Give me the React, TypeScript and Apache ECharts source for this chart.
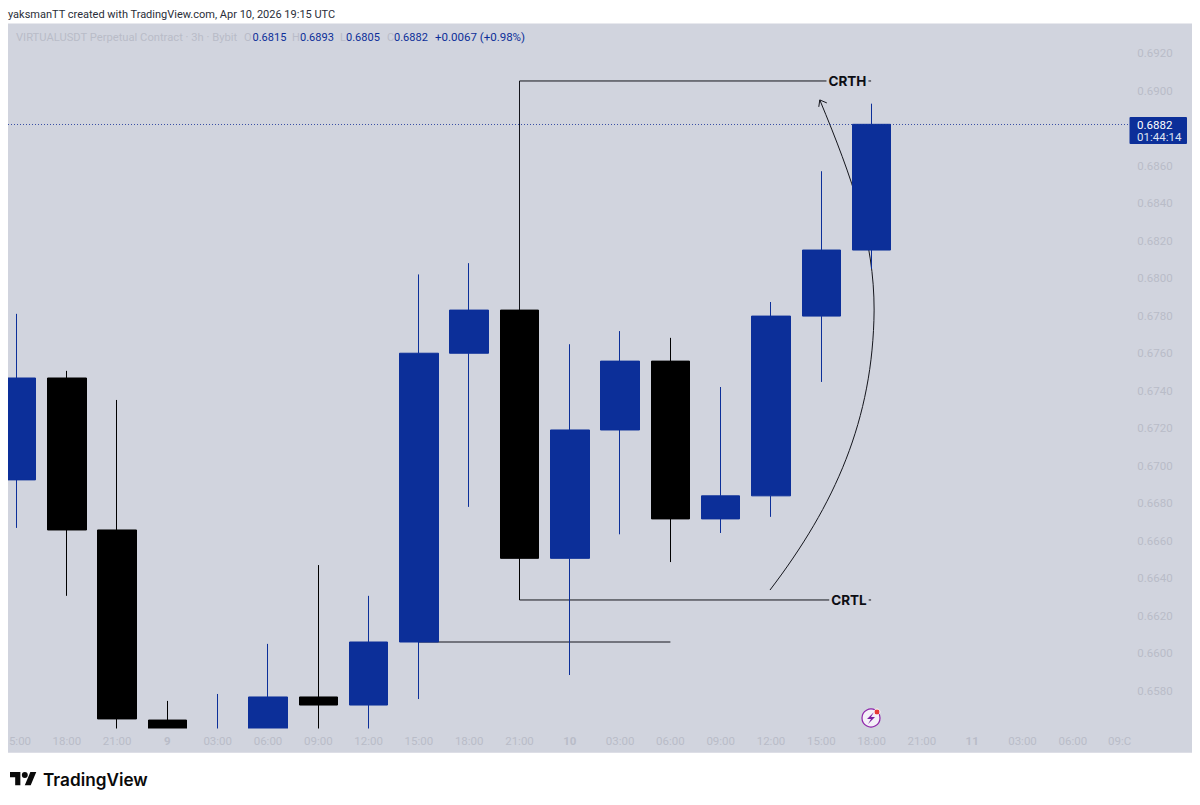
import React, { useEffect, useRef } from "react";
import * as echarts from "echarts";

const timeLabels = ["5:00","18:00","21:00","9","03:00","06:00","09:00","12:00","15:00","18:00","21:00","10","03:00","06:00","09:00","12:00","15:00","18:00","21:00","11","03:00","06:00","09:C"];
const opens  = [0.66925,0.67468,0.66658,0.65645,0.6552,0.6556,0.65768,0.65725,0.66061,0.676,0.6783,0.66507,0.67191,0.67558,0.66717,0.6684,0.67798,0.6815];
const closes = [0.67468,0.66658,0.65651,0.6557,0.6556,0.65768,0.65725,0.66061,0.676,0.6783,0.66507,0.67191,0.67558,0.66717,0.6684,0.67798,0.6815,0.6882];
const lows   = [0.66669,0.66307,0.6557,0.6555,0.655,0.6554,0.6558,0.6558,0.65757,0.66781,0.66285,0.65885,0.66635,0.66487,0.66642,0.66728,0.67447,0.6805];
const highs  = [0.6781,0.67506,0.67351,0.65747,0.65784,0.66051,0.66471,0.66307,0.6802,0.6808,0.6783,0.67648,0.67718,0.67682,0.6742,0.67873,0.6857,0.6893];
const lastPrice = 0.6882;

// Drawing tools: [position on the time axis in bars, price]
const crthLine = [[10.5,0.6783],[10.5,0.69051],[17.49,0.69051]];
const crtlLine = [[10.5,0.66507],[10.5,0.66285],[17.49,0.66285]];
const fvgLine = [[8.5,0.66061],[13.5,0.66061]];
const arrowCurve = [[15.48,0.66338],[16.77,0.66792],[17.53,0.67245],[17.55,0.6783],[17.55,0.68203],[17.13,0.68523],[16.47,0.6895]];
const arrowHead = [[16.45,0.68913],[16.47,0.6895],[16.61,0.68934]];
const drawingLabels: [string, number, number][] = [["CRTH",17.02,0.69051],["CRTL",17.05,0.66285]];

const UP = "#0c2f99";
const DOWN = "#000000";
const PANEL = "#d1d4de";
const MUTED = "#b9bcc8";
const FONT = "Roboto, 'Noto Sans', sans-serif";
const BRAND = "Inter, 'Noto Sans', sans-serif";

echarts.graphic.registerShape(
  "tvLogo",
  echarts.graphic.extendPath("M14 22H7V11H0V4h14v18z M28 22h-8l7.5-18h8L28 22z M24 8a4 4 0 1 1-8 0a4 4 0 1 1 8 0z", {}) as any
);

const headerParts: [string, number, string, number][] = [
  ["VIRTUALUSDT Perpetual Contract · 3h · Bybit", 16, MUTED, 11.2],
  ["O", 244, MUTED, 11], ["0.6815", 252.5, UP, 11],
  ["H", 292, MUTED, 11], ["0.6893", 300, UP, 11],
  ["L", 340, MUTED, 11], ["0.6805", 346, UP, 11],
  ["C", 387, MUTED, 11], ["0.6882", 394, UP, 11],
  ["+0.0067 (+0.98%)", 435, UP, 11.5],
];

export default function App() {
  const ref = useRef<HTMLDivElement>(null);
  useEffect(() => {
    document.body.style.margin = "0";
    const chart = echarts.init(ref.current!, undefined, { renderer: "svg" });
    const bars = opens.map((o, i) => [o, closes[i], lows[i], highs[i]]);
    const poly = (api: any, pts: number[][]) => ({
      type: "polyline",
      shape: { points: pts.map((p) => api.coord(p)) },
      style: { stroke: "#14151c", lineWidth: 1, fill: "none" },
    });
    chart.setOption({
      animation: false,
      backgroundColor: "#ffffff",
      grid: { left: -8.65, top: 23, width: 1156.9, height: 705.5, containLabel: false, show: false, outerBoundsMode: "none" },
      xAxis: [
        {
          type: "category",
          data: timeLabels,
          boundaryGap: true,
          z: 3,
          axisTick: { show: false },
          axisLine: { show: false },
          splitLine: { show: false },
          axisLabel: {
            interval: 0,
            margin: 6,
            hideOverlap: false,
            showMinLabel: true,
            showMaxLabel: true,
            fontFamily: FONT,
            fontSize: 11.5,
            color: MUTED,
            formatter: (v: string) => {
              if (v === "5:00") return "{l|5:00}";
              if (v === "09:C") return "{r|09:C}";
              if (v.length < 3) return "{b|" + v + "}";
              return v;
            },
            rich: {
              l: { padding: [0, 0, 0, 7], color: MUTED, fontSize: 11.5, fontFamily: FONT },
              r: { padding: [0, 7, 0, 0], color: MUTED, fontSize: 11.5, fontFamily: FONT },
              b: { fontWeight: "bold", color: MUTED, fontSize: 11.5, fontFamily: FONT },
            },
          },
        },
        { type: "value", min: 0, max: 23, show: false },
      ],
      yAxis: {
        type: "value",
        position: "right",
        min: 0.656,
        max: 0.6936,
        interval: 0.002,
        axisLine: { show: false },
        axisTick: { show: false },
        splitLine: { show: false },
        axisLabel: {
          inside: true,
          margin: 11,
          align: "left",
          fontFamily: FONT,
          fontSize: 11.5,
          color: MUTED,
          formatter: (v: number) => {
            const s = v.toFixed(4);
            return s === "0.6560" || s === "0.6880" || s === "0.6936" ? "" : s;
          },
        },
      },
      series: [
        {
          type: "custom",
          xAxisIndex: 1,
          coordinateSystem: "cartesian2d",
          data: [[0, 0.67]],
          clip: false,
          z: 0,
          renderItem: (_p: any, api: any) => {
            const c = arrowCurve.map((p) => api.coord(p));
            return {
              type: "group",
              children: [
                poly(api, crthLine),
                poly(api, crtlLine),
                poly(api, fvgLine),
                {
                  type: "path",
                  shape: {
                    pathData: `M${c[0][0]} ${c[0][1]} C${c[1][0]} ${c[1][1]} ${c[2][0]} ${c[2][1]} ${c[3][0]} ${c[3][1]} C${c[4][0]} ${c[4][1]} ${c[5][0]} ${c[5][1]} ${c[6][0]} ${c[6][1]}`,
                  },
                  style: { stroke: "#14151c", lineWidth: 1, fill: "none" },
                },
                poly(api, arrowHead),
                ...drawingLabels.map(([t, x, y]) => {
                  const q = api.coord([x, y]);
                  return {
                    type: "text",
                    x: q[0], y: q[1],
                    style: { text: t, fill: "#0d0e14", font: `bold 13.5px ${BRAND}`, align: "center", verticalAlign: "middle", backgroundColor: PANEL, padding: [2, 2] },
                  };
                }),
              ],
            };
          },
        },
        {
          type: "candlestick",
          xAxisIndex: 0,
          data: bars,
          barWidth: 39,
          clip: true,
          z: 1,
          itemStyle: { color: UP, borderColor: UP, color0: DOWN, borderColor0: DOWN, borderWidth: 1 },
          markLine: {
            silent: true,
            symbol: "none",
            z: 1,
            label: { show: false },
            lineStyle: { color: "#3a50a5", type: [1, 2], width: 1 },
            data: [[{ x: 8, yAxis: lastPrice }, { x: 1130, yAxis: lastPrice }]],
          },
        },
      ],
      graphic: [
        { type: "rect", z: -10, silent: true, shape: { x: 8, y: 23.5, width: 1184, height: 729 }, style: { fill: PANEL } },
        { type: "rect", z: 2, silent: true, shape: { x: 8, y: 728.5, width: 1184, height: 24 }, style: { fill: PANEL } },
        { type: "rect", z: 100, silent: true, shape: { x: 0, y: 23, width: 8, height: 735 }, style: { fill: "#ffffff" } },
        { type: "text", z: 101, x: 8, y: 14, style: { text: "yaksmanTT created with TradingView.com, Apr 10, 2026 19:15 UTC", fill: "#2a2e39", font: `11px ${FONT}`, verticalAlign: "middle" } },
        ...headerParts.map(([text, x, fill, size]) => ({ type: "text", z: 101, x, y: 37, style: { text, fill, font: `${size}px ${FONT}`, verticalAlign: "middle" } })),
        { type: "rect", z: 101, shape: { x: 1129.5, y: 117, width: 57.5, height: 27, r: 1 }, style: { fill: UP } },
        { type: "text", z: 102, x: 1137, y: 124.5, style: { text: "0.6882", fill: "#ffffff", font: `11.5px ${FONT}`, verticalAlign: "middle" } },
        { type: "text", z: 102, x: 1137, y: 136.5, style: { text: "01:44:14", fill: "#dfe3f2", font: `11.5px ${FONT}`, verticalAlign: "middle" } },
        { type: "tvLogo", z: 101, x: 10, y: 769, scaleX: 0.74, scaleY: 0.74, style: { fill: "#0a0a0a" } },
        { type: "text", z: 101, x: 43, y: 779, style: { text: "TradingView", fill: "#0a0a0a", font: `600 17.2px ${BRAND}`, verticalAlign: "middle" } },
        { type: "circle", z: 101, shape: { cx: 871, cy: 718, r: 9 }, style: { fill: "#f4f0f8", stroke: "#8e24aa", lineWidth: 1.2 } },
        { type: "polygon", z: 102, shape: { points: [[874, 712], [867, 719], [871, 719], [868, 724], [875, 717], [871, 717]] }, style: { fill: "#7b1fa2" } },
        { type: "circle", z: 103, shape: { cx: 877, cy: 712, r: 3 }, style: { fill: "#e53935", stroke: "#ffffff", lineWidth: 1 } },
      ],
    });
    return () => chart.dispose();
  }, []);
  return <div ref={ref} style={{ width: 1200, height: 805 }} />;
}
